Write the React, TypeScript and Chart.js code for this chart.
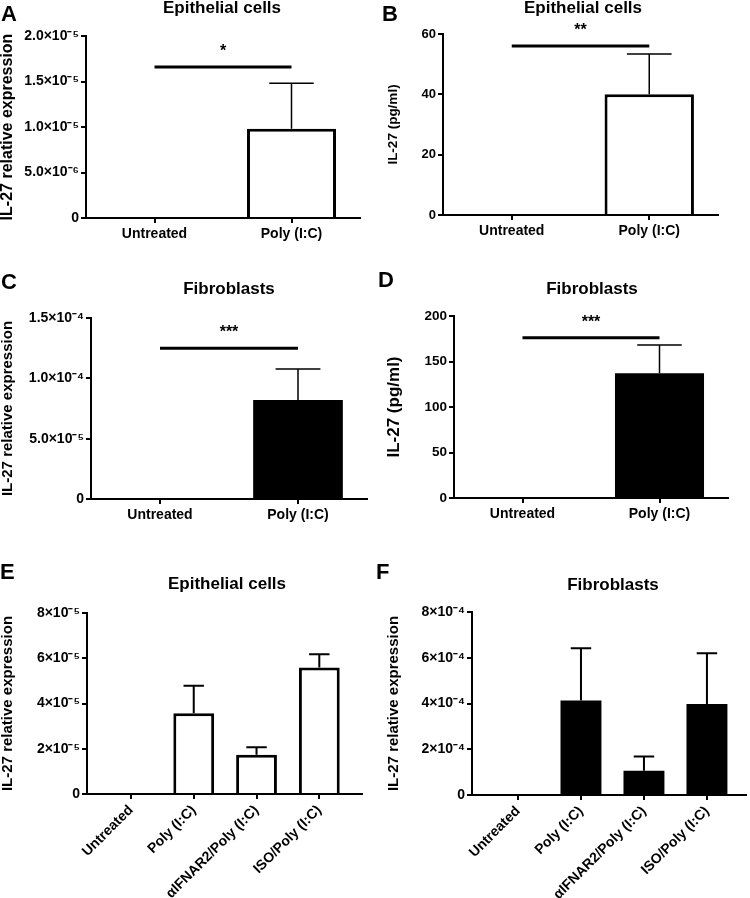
import React, { useEffect, useRef } from 'react';
import { Chart, registerables } from 'chart.js';

Chart.register(...registerables);

const FONT = "'Liberation Sans', Arial, Helvetica, sans-serif";

// ---------- categories ----------
const catsTwo = ['Untreated', 'Poly (I:C)'];
const catsFour = ['Untreated', 'Poly (I:C)', 'αIFNAR2/Poly (I:C)', 'ISO/Poly (I:C)'];

// ---------- Panel A: epithelial cells, relative expression ----------
const aMean = [0, 9.8e-6];
const aErr = [0, 5.0e-6];
const aTicks = [0, 5e-6, 1e-5, 1.5e-5, 2e-5];
const aTickLabels = ['0', '5.0×10⁻⁶', '1.0×10⁻⁵', '1.5×10⁻⁵', '2.0×10⁻⁵'];
const aSig = 1.66e-5;
const aStars = '*';

// ---------- Panel B: epithelial cells, pg/ml ----------
const bMean = [0, 40];
const bErr = [0, 13.4];
const bTicks = [0, 20, 40, 60];
const bTickLabels = ['0', '20', '40', '60'];
const bSig = 56;
const bStars = '**';

// ---------- Panel C: fibroblasts, relative expression ----------
const cMean = [0, 8.2e-5];
const cErr = [0, 2.57e-5];
const cTicks = [0, 5e-5, 1e-4, 1.5e-4];
const cTickLabels = ['0', '5.0×10⁻⁵', '1.0×10⁻⁴', '1.5×10⁻⁴'];
const cSig = 1.25e-4;
const cStars = '***';

// ---------- Panel D: fibroblasts, pg/ml ----------
const dMean = [0, 137];
const dErr = [0, 31];
const dTicks = [0, 50, 100, 150, 200];
const dTickLabels = ['0', '50', '100', '150', '200'];
const dSig = 176;
const dStars = '***';

// ---------- Panel E: epithelial cells, 4 groups ----------
const eMean = [0, 3.57e-5, 1.74e-5, 5.59e-5];
const eErr = [0, 1.21e-5, 0.33e-5, 0.59e-5];
const eTicks = [0, 2e-5, 4e-5, 6e-5, 8e-5];
const eTickLabels = ['0', '2×10⁻⁵', '4×10⁻⁵', '6×10⁻⁵', '8×10⁻⁵'];

// ---------- Panel F: fibroblasts, 4 groups ----------
const fMean = [0, 4.13e-4, 1.06e-4, 3.98e-4];
const fErr = [0, 2.29e-4, 0.62e-4, 2.22e-4];
const fTicks = [0, 2e-4, 4e-4, 6e-4, 8e-4];
const fTickLabels = ['0', '2×10⁻⁴', '4×10⁻⁴', '6×10⁻⁴', '8×10⁻⁴'];

const REL = 'IL-27 relative expression';
const PG = 'IL-27 (pg/ml)';

type Panel = {
  key: string;
  letter: string;
  title: string;
  yTitle: string;
  cats: string[];
  mean: number[];
  err: number[];
  ticks: number[];
  tickLabels: string[];
  sigY?: number;
  stars?: string;
  fill: string;
  box: { left: number; top: number; w: number; h: number };
  area: { left: number; top: number; right: number; bottom: number };
  xRange: [number, number];
  rotate: number;
  yTitleSize: number;
  yTitlePad: number;
  yTickSize: number;
  errWidth: number;
  titleX: number;
  titleBase: number;
  letterX: number;
  letterBase: number;
};

const panels: Panel[] = [
  {
    key: 'A', letter: 'A', title: 'Epithelial cells', yTitle: REL, cats: catsTwo,
    mean: aMean, err: aErr, ticks: aTicks, tickLabels: aTickLabels, sigY: aSig, stars: aStars,
    fill: '#ffffff',
    box: { left: 0, top: 0, w: 375, h: 262 },
    area: { left: 86, top: 36, right: 360, bottom: 218 },
    xRange: [-0.5, 1.5], rotate: 0, yTitleSize: 16, yTitlePad: 0, yTickSize: 14, errWidth: 1.5,
    titleX: 222, titleBase: 13, letterX: 1, letterBase: 22,
  },
  {
    key: 'B', letter: 'B', title: 'Epithelial cells', yTitle: PG, cats: catsTwo,
    mean: bMean, err: bErr, ticks: bTicks, tickLabels: bTickLabels, sigY: bSig, stars: bStars,
    fill: '#ffffff',
    box: { left: 375, top: 0, w: 375, h: 262 },
    area: { left: 68, top: 34, right: 343, bottom: 215 },
    xRange: [-0.5, 1.5], rotate: 0, yTitleSize: 13.5, yTitlePad: 12, yTickSize: 13, errWidth: 1.5,
    titleX: 583, titleBase: 13, letterX: 382, letterBase: 22,
  },
  {
    key: 'C', letter: 'C', title: 'Fibroblasts', yTitle: REL, cats: catsTwo,
    mean: cMean, err: cErr, ticks: cTicks, tickLabels: cTickLabels, sigY: cSig, stars: cStars,
    fill: '#000000',
    box: { left: 0, top: 262, w: 375, h: 290 },
    area: { left: 91, top: 56, right: 367, bottom: 237 },
    xRange: [-0.5, 1.5], rotate: 0, yTitleSize: 15, yTitlePad: 0, yTickSize: 14, errWidth: 1.5,
    titleX: 229, titleBase: 294, letterX: 1, letterBase: 290,
  },
  {
    key: 'D', letter: 'D', title: 'Fibroblasts', yTitle: PG, cats: catsTwo,
    mean: dMean, err: dErr, ticks: dTicks, tickLabels: dTickLabels, sigY: dSig, stars: dStars,
    fill: '#000000',
    box: { left: 375, top: 262, w: 375, h: 290 },
    area: { left: 79, top: 54, right: 353, bottom: 236 },
    xRange: [-0.5, 1.5], rotate: 0, yTitleSize: 17, yTitlePad: 10.5, yTickSize: 13.5, errWidth: 1.5,
    titleX: 592, titleBase: 294, letterX: 378, letterBase: 288,
  },
  {
    key: 'E', letter: 'E', title: 'Epithelial cells', yTitle: REL, cats: catsFour,
    mean: eMean, err: eErr, ticks: eTicks, tickLabels: eTickLabels,
    fill: '#ffffff',
    box: { left: 0, top: 552, w: 375, h: 346 },
    area: { left: 87, top: 61, right: 362, bottom: 242 },
    xRange: [-0.7, 3.68], rotate: 45, yTitleSize: 15, yTitlePad: 0, yTickSize: 14, errWidth: 2,
    titleX: 227, titleBase: 589, letterX: 0, letterBase: 580,
  },
  {
    key: 'F', letter: 'F', title: 'Fibroblasts', yTitle: REL, cats: catsFour,
    mean: fMean, err: fErr, ticks: fTicks, tickLabels: fTickLabels,
    fill: '#000000',
    box: { left: 375, top: 552, w: 375, h: 346 },
    area: { left: 97, top: 60, right: 371, bottom: 243 },
    xRange: [-0.73, 3.62], rotate: 45, yTitleSize: 15, yTitlePad: 11.5, yTickSize: 14, errWidth: 2,
    titleX: 613, titleBase: 590, letterX: 376, letterBase: 580,
  },
];

function BarPanel({ p }: { p: Panel }) {
  const ref = useRef<HTMLCanvasElement>(null);

  useEffect(() => {
    if (!ref.current) return;
    const yMax = p.ticks[p.ticks.length - 1];
    const solid = p.fill === '#000000';

    const overlay = {
      id: 'overlay' + p.key,
      afterDatasetsDraw(chart: any) {
        const ctx = chart.ctx as CanvasRenderingContext2D;
        const meta = chart.getDatasetMeta(0);
        const ys = chart.scales.y;
        const xs = chart.scales.x;
        ctx.save();
        ctx.strokeStyle = '#000';
        ctx.lineCap = 'butt';
        ctx.lineWidth = p.errWidth;
        meta.data.forEach((bar: any, i: number) => {
          const e = p.err[i];
          if (!e) return;
          const m = p.mean[i];
          const x = bar.x;
          const w = bar.width;
          const y0 = ys.getPixelForValue(m);
          const y1 = ys.getPixelForValue(m + e);
          ctx.beginPath();
          ctx.moveTo(x, y0);
          ctx.lineTo(x, y1);
          ctx.moveTo(x - w / 4, y1);
          ctx.lineTo(x + w / 4, y1);
          ctx.stroke();
        });
        if (p.sigY != null && p.stars) {
          const yS = ys.getPixelForValue(p.sigY);
          const x0 = xs.getPixelForValue(0);
          const x1 = xs.getPixelForValue(1);
          ctx.lineWidth = 3;
          ctx.beginPath();
          ctx.moveTo(x0, yS);
          ctx.lineTo(x1, yS);
          ctx.stroke();
          ctx.fillStyle = '#000';
          ctx.font = `bold 16px ${FONT}`;
          ctx.textAlign = 'center';
          ctx.textBaseline = 'alphabetic';
          ctx.fillText(p.stars, (x0 + x1) / 2, yS - 11);
        }
        ctx.restore();
      },
    };

    const chart = new Chart(ref.current, {
      type: 'bar',
      data: {
        datasets: [
          {
            data: p.mean.map((v, i) => ({ x: i, y: v })),
            backgroundColor: p.fill,
            borderColor: '#000',
            borderWidth: solid ? 0 : 3,
            borderSkipped: 'start',
            inflateAmount: 0,
            categoryPercentage: 1,
            barPercentage: 0.65,
          } as any,
        ],
      },
      options: {
        responsive: false,
        animation: false,
        devicePixelRatio: 1,
        layout: {
          padding: { left: 0, top: p.area.top, right: p.box.w - p.area.right, bottom: 0 },
        },
        plugins: {
          legend: { display: false },
          tooltip: { enabled: false },
        },
        scales: {
          x: {
            type: 'linear',
            min: p.xRange[0],
            max: p.xRange[1],
            bounds: 'data',
            offset: false,
            afterBuildTicks: (s: any) => {
              s.ticks = p.cats.map((_, i) => ({ value: i }));
            },
            afterFit: (s: any) => {
              s.height = p.box.h - p.area.bottom;
            },
            ticks: {
              autoSkip: false,
              maxRotation: p.rotate,
              minRotation: p.rotate,
              padding: 3,
              color: '#000',
              font: { family: FONT, size: 14, weight: 'bold' },
              callback: (v: any) => p.cats[Math.round(Number(v))] ?? '',
            },
            grid: {
              offset: false,
              drawOnChartArea: false,
              drawTicks: true,
              tickLength: 5,
              lineWidth: 2,
              color: '#000',
            },
            border: { display: true, color: '#000', width: 2 },
          } as any,
          y: {
            type: 'linear',
            min: 0,
            max: yMax,
            afterBuildTicks: (s: any) => {
              s.ticks = p.ticks.map((v) => ({ value: v }));
            },
            afterFit: (s: any) => {
              s.width = p.area.left;
            },
            ticks: {
              padding: 2,
              color: '#000',
              font: { family: FONT, size: p.yTickSize, weight: 'bold' },
              callback: (_v: any, i: number) => p.tickLabels[i],
            },
            grid: {
              drawOnChartArea: false,
              drawTicks: true,
              tickLength: 5,
              lineWidth: 2,
              color: '#000',
            },
            border: { display: true, color: '#000', width: 2 },
            title: {
              display: true,
              text: p.yTitle,
              color: '#000',
              font: { family: FONT, size: p.yTitleSize, weight: 'bold', lineHeight: 1 },
              padding: { top: p.yTitlePad, bottom: 0 },
            },
          } as any,
        },
      },
      plugins: [overlay],
    });

    return () => chart.destroy();
  }, [p]);

  return (
    <canvas
      ref={ref}
      width={p.box.w}
      height={p.box.h}
      style={{
        position: 'absolute',
        left: p.box.left,
        top: p.box.top,
        width: p.box.w,
        height: p.box.h,
      }}
    />
  );
}

const TITLE_SIZE = 17;
const LETTER_SIZE = 22;
const BASE_RATIO = 0.8465;

export default function App() {
  return (
    <div
      style={{
        position: 'absolute',
        left: 0,
        top: 0,
        width: 750,
        height: 898,
        background: '#fff',
        overflow: 'hidden',
        fontFamily: FONT,
        color: '#000',
      }}
    >
      {panels.map((p) => (
        <BarPanel key={p.key} p={p} />
      ))}
      {panels.map((p) => (
        <div
          key={'t' + p.key}
          style={{
            position: 'absolute',
            left: p.titleX - 150,
            width: 300,
            top: p.titleBase - BASE_RATIO * TITLE_SIZE,
            textAlign: 'center',
            fontWeight: 'bold',
            fontSize: TITLE_SIZE,
            lineHeight: `${TITLE_SIZE}px`,
            whiteSpace: 'nowrap',
          }}
        >
          {p.title}
        </div>
      ))}
      {panels.map((p) => (
        <div
          key={'l' + p.key}
          style={{
            position: 'absolute',
            left: p.letterX,
            top: p.letterBase - BASE_RATIO * LETTER_SIZE,
            fontWeight: 'bold',
            fontSize: LETTER_SIZE,
            lineHeight: `${LETTER_SIZE}px`,
          }}
        >
          {p.letter}
        </div>
      ))}
    </div>
  );
}
